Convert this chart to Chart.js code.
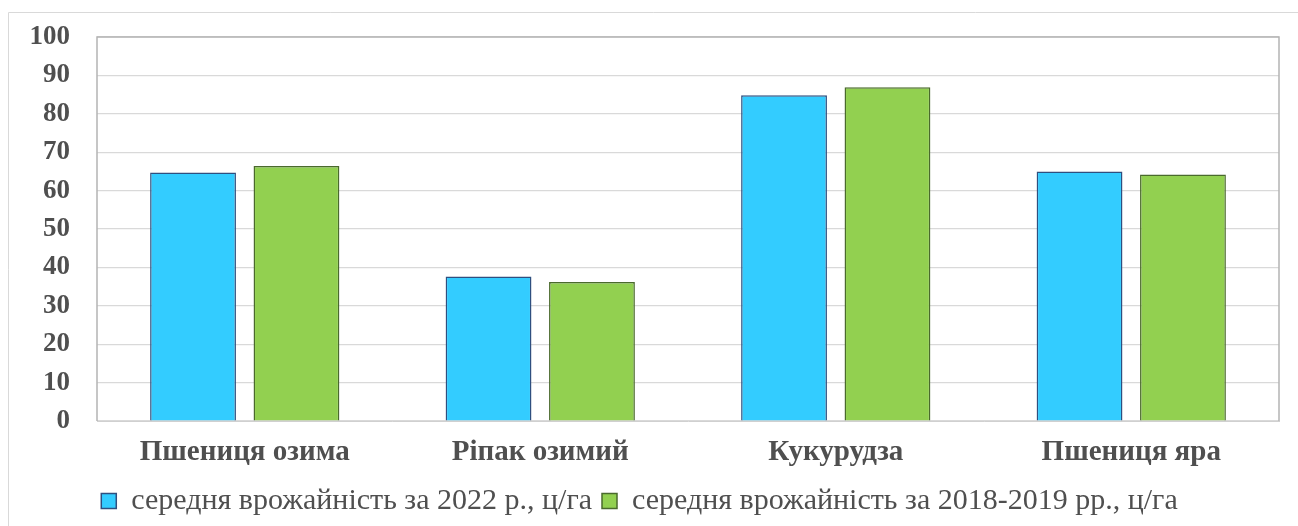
<!DOCTYPE html>
<html lang="uk">
<head>
<meta charset="utf-8">
<title>Середня врожайність</title>
<script src="https://cdn.jsdelivr.net/npm/chart.js@4/dist/chart.umd.min.js"></script>
<style>
  html, body { margin: 0; padding: 0; background: #fff; }
  #wrap { position: relative; width: 1298px; height: 526px; }
</style>
</head>
<body>
<div id="wrap"><canvas id="yield-chart" width="1298" height="526"></canvas></div>
<script>
const crops = ["Пшениця озима", "Ріпак озимий", "Кукурудза", "Пшениця яра"];
const yield2022 = [64.7, 37.6, 84.8, 65.0];
const yield2018_2019 = [66.4, 36.2, 86.9, 64.2];
const seriesNames = [
  "середня врожайність за 2022 р., ц/га",
  "середня врожайність за 2018-2019 рр., ц/га"
];
const yTicks = [0, 10, 20, 30, 40, 50, 60, 70, 80, 90, 100];

const textColor = "#4f4f4f";
const serif = "'Liberation Serif', 'Times New Roman', serif";
const el = id => document.getElementById(id);

// outer frame of the figure plus the grey box round the plot area
const frame = {
  id: "frame",
  beforeDraw(chart) {
    const ctx = chart.ctx;
    ctx.save();
    ctx.strokeStyle = "#d9d9d9";
    ctx.lineWidth = 1;
    ctx.beginPath();
    ctx.moveTo(8.5, chart.height);
    ctx.lineTo(8.5, 12.5);
    ctx.lineTo(chart.width, 12.5);
    ctx.stroke();
    ctx.restore();
  },
  afterDatasetsDraw(chart) {
    const { left, top, right, bottom } = chart.chartArea;
    const ctx = chart.ctx;
    ctx.save();
    ctx.strokeStyle = "#b4b4b4";
    ctx.lineWidth = 1.5;
    ctx.beginPath();
    ctx.moveTo(left, bottom);
    ctx.lineTo(left, top);
    ctx.lineTo(right, top);
    ctx.lineTo(right, bottom);
    ctx.stroke();
    ctx.restore();
  }
};

// keep tick labels from pushing the plot area around
const noOverhang = scale => {
  scale.paddingTop = 0;
  scale.paddingBottom = 0;
  scale.paddingLeft = 0;
  scale.paddingRight = 0;
};

new Chart(el("yield-chart"), {
  type: "bar",
  data: {
    labels: crops,
    datasets: [{
      label: seriesNames[0], data: yield2022,
      backgroundColor: "#33ccff", borderColor: "#2f4f7f", borderWidth: 1.5,
      categoryPercentage: 0.70, barPercentage: 0.83
    }, {
      label: seriesNames[1], data: yield2018_2019,
      backgroundColor: "#92d050", borderColor: "#4a6a2c", borderWidth: 1.5,
      categoryPercentage: 0.70, barPercentage: 0.83
    }]
  },
  options: {
    responsive: false,
    animation: false,
    layout: { padding: { top: 37, right: 19, left: 0, bottom: 0 } },
    plugins: {
      tooltip: { enabled: false },
      legend: {
        position: "bottom",
        labels: {
          color: textColor, boxWidth: 15, boxHeight: 15, padding: 10,
          font: { family: serif, size: 30 }
        }
      }
    },
    scales: {
      x: {
        grid: { display: false, drawTicks: false },
        border: { color: "#d0d0d0" },
        ticks: { color: textColor, padding: 14, font: { family: serif, size: 29, weight: "bold" } },
        afterFit: scale => { scale.height = 55; noOverhang(scale); }
      },
      y: {
        min: 0, max: 100,
        afterBuildTicks: scale => { scale.ticks = yTicks.map(value => ({ value })); },
        grid: { color: "#d9d9d9", lineWidth: 1.2, drawTicks: false },
        border: { display: false },
        ticks: { color: textColor, padding: 27, font: { family: serif, size: 27, weight: "bold" } },
        afterFit: scale => { scale.width = 97; noOverhang(scale); }
      }
    }
  },
  plugins: [frame]
});
</script>
</body>
</html>
